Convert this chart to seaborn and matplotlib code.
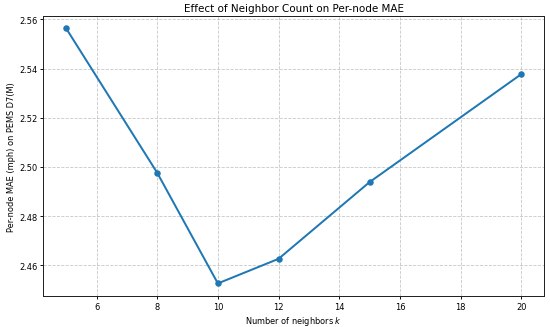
import numpy as np
import pandas as pd
import seaborn as sns
import matplotlib.pyplot as plt

# values
neighbors = [5, 8, 10, 12, 15, 20]
mae = [2.5563, 2.4976, 2.4526, 2.4626, 2.4938, 2.5377]

df = pd.DataFrame({'k': neighbors, 'mae': mae})

plt.rcParams['font.family'] = ['DejaVu Sans']

fig, ax = plt.subplots(figsize=(10, 5.9636), dpi=55)
sns.lineplot(data=df, x='k', y='mae', marker='o', color='#1f77b4',
             linewidth=2.6, markersize=8.5, markeredgewidth=0, ax=ax)

ax.set_title('Effect of Neighbor Count on Per-node MAE', fontsize=13.5)
ax.set_xlabel('Number of neighbors $k$', fontsize=10.8)
ax.set_ylabel('Per-node MAE (mph) on PEMS D7(M)', fontsize=10.8)
ax.tick_params(labelsize=10.8, width=1.2, length=4)
ax.grid(True, linestyle='--', color='#b0b0b0', alpha=0.7, linewidth=1.1)
for s in ax.spines.values():
    s.set_color('#222222')
    s.set_linewidth(1.3)

fig.subplots_adjust(left=0.079, right=0.989, top=0.949, bottom=0.094)
fig.savefig('out.png', dpi=55)
